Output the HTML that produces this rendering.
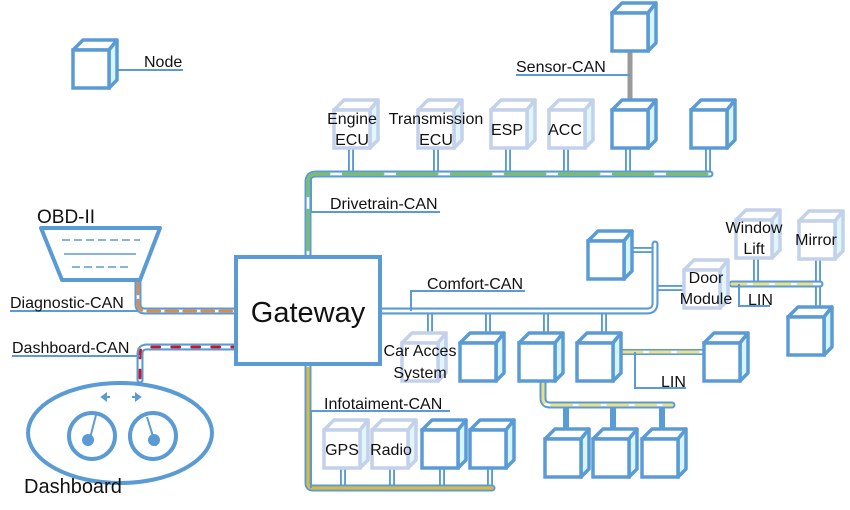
<!DOCTYPE html>
<html><head><meta charset="utf-8"><style>
html,body{margin:0;padding:0;background:#fff;}
svg{display:block;font-family:"Liberation Sans","DejaVu Sans",sans-serif;}
text{fill:#111;}
</style></head><body>
<svg width="850" height="510" viewBox="0 0 850 510" xmlns="http://www.w3.org/2000/svg">
<defs>
<g id="cb">
<polygon points="2,12 12,2 46,2 38,12" fill="#fff" stroke="#5b9bd5" stroke-width="3.5" stroke-linejoin="round"/>
<polygon points="38,12 46,2 46,42 38,50" fill="#d6f6fc" stroke="#5b9bd5" stroke-width="3.5" stroke-linejoin="round"/>
<rect x="2" y="12" width="36" height="38" fill="#fff" stroke="#5b9bd5" stroke-width="3.5"/>
</g>
<g id="cl">
<polygon points="2,12 12,2 46,2 38,12" fill="#fff" stroke="#c3d1ea" stroke-width="3.5" stroke-linejoin="round"/>
<polygon points="38,12 46,2 46,42 38,50" fill="#dff6fb" stroke="#c3d1ea" stroke-width="3.5" stroke-linejoin="round"/>
<rect x="2" y="12" width="36" height="38" fill="#fff" stroke="#c3d1ea" stroke-width="3.5"/>
</g>
</defs>
<g fill="none" stroke-linecap="round">
<g stroke="#5b9bd5" stroke-width="6">
<path d="M351 150V174M436 150V174M508 150V174M566 150V174M628 150V174M708 150V174"/>
<path d="M430 311V333M488 311V333M546 311V333M604 311V333"/>
<path d="M632 250H655M655 288H682"/>
<path d="M756 260V284M818 260V305"/>
<path d="M622 352H702"/>
<path d="M566 405V428M613 405V428M662 405V428"/>
<path d="M343 470V488M392 470V488M442 470V488M490 470V488"/>
</g>
<g stroke="#fff" stroke-width="2.2">
<path d="M351 150V174M436 150V174M508 150V174M566 150V174M628 150V174M708 150V174"/>
<path d="M430 311V333M488 311V333M546 311V333M604 311V333"/>
<path d="M632 250H655M655 288H682"/>
<path d="M756 260V284M818 260V305"/>
<path d="M343 470V488M392 470V488M442 470V488M490 470V488"/>
</g>
<path d="M630 52V98" stroke="#9a9a9a" stroke-width="5"/>
<g stroke="#5b9bd5" stroke-width="7" stroke-linejoin="round">
<path d="M308 256V182Q308 174 316 174H710"/>
<path d="M380 311H647Q655 311 655 303V244"/>
<path d="M138 280V304Q138 311 145 311H236"/>
<path d="M140 380V354Q140 347 147 347H236"/>
<path d="M308 366V483Q308 488 313 488H492"/>
<path d="M732 284H820"/>
<path d="M543 383V398Q543 405 550 405H672"/>
</g>
<g stroke="#fff" stroke-width="2.8" stroke-linejoin="round">
<path d="M308 256V182Q308 174 316 174H710"/>
<path d="M380 311H647Q655 311 655 303V244"/>
<path d="M138 280V304Q138 311 145 311H236"/>
<path d="M140 380V354Q140 347 147 347H236"/>
<path d="M308 366V483Q308 488 313 488H492"/>
<path d="M732 284H820"/>
<path d="M543 383V398Q543 405 550 405H672"/>
<path d="M622 352H702"/>
</g>
<g stroke-width="2.8">
<path d="M308 250V182Q308 174 316 174H710" stroke="#7cc05a" stroke-dasharray="40 14"/>
<path d="M138 282V304Q138 311 145 311H236" stroke="#e08a45" stroke-dasharray="12 6"/>
<path d="M140 378V354Q140 347 147 347H236" stroke="#d0141f" stroke-dasharray="8 12"/>
<path d="M308 368V483Q308 488 313 488H492" stroke="#e5b82b"/>
<path d="M732 284H820" stroke="#eee07a" stroke-dasharray="14 8"/>
<path d="M543 383V398Q543 405 550 405H672" stroke="#eee07a" stroke-dasharray="20 8"/>
<path d="M622 352H702" stroke="#eee07a" stroke-dasharray="20 8"/>
</g>
<g stroke="#5b9bd5" stroke-width="2" stroke-linecap="butt">
<path d="M118 70H183"/>
<path d="M516 75H630"/>
<path d="M311 178V212H440"/>
<path d="M411 311V291H525"/>
<path d="M10 311H138"/>
<path d="M12 356H140"/>
<path d="M311 488V411H450"/>
<path d="M635 352V388H686"/>
<path d="M739 284V306H770"/>
</g>
</g>
<use href="#cb" x="71" y="38"/>
<use href="#cb" x="610" y="1"/>
<use href="#cl" x="332" y="98"/>
<use href="#cl" x="416" y="98"/>
<use href="#cl" x="489" y="98"/>
<use href="#cl" x="547" y="98"/>
<use href="#cb" x="610" y="98"/>
<use href="#cb" x="689" y="98"/>
<use href="#cb" x="586" y="229"/>
<use href="#cl" x="682" y="258"/>
<use href="#cl" x="734" y="208"/>
<use href="#cl" x="797" y="209"/>
<use href="#cb" x="786" y="305"/>
<use href="#cl" x="400" y="331"/>
<use href="#cb" x="458" y="331"/>
<use href="#cb" x="517" y="331"/>
<use href="#cb" x="575" y="331"/>
<use href="#cb" x="702" y="331"/>
<use href="#cb" x="543" y="427"/>
<use href="#cb" x="591" y="427"/>
<use href="#cb" x="640" y="427"/>
<use href="#cl" x="322" y="418"/>
<use href="#cl" x="370" y="418"/>
<use href="#cb" x="420" y="418"/>
<use href="#cb" x="468" y="418"/>
<rect x="236" y="257" width="144" height="107" fill="#fff" stroke="#5b9bd5" stroke-width="4"/>
<text x="308" y="322" font-size="29" text-anchor="middle">Gateway</text>
<polygon points="41,228 160,228 140,280 62,280" fill="#fff" stroke="#5b9bd5" stroke-width="4" stroke-linejoin="round"/>
<path d="M62 240H140M72 267H130" stroke="#5b9bd5" stroke-width="1.6" stroke-dasharray="8 4"/>
<path d="M64 254H136" stroke="#5b9bd5" stroke-width="1.6"/>
<ellipse cx="120" cy="433" rx="92" ry="50" fill="#fff" stroke="#5b9bd5" stroke-width="4"/>
<circle cx="92" cy="436" r="23" fill="none" stroke="#5b9bd5" stroke-width="4"/>
<circle cx="153" cy="436" r="23" fill="none" stroke="#5b9bd5" stroke-width="4"/>
<path d="M88 446L96 415M156 446L147 417" stroke="#5b9bd5" stroke-width="2"/>
<circle cx="88" cy="440" r="6" fill="#5b9bd5"/>
<circle cx="154" cy="440" r="6" fill="#5b9bd5"/>
<path d="M104 397h6M102 397l4-3v6zM132 397h6M140 397l-4-3v6z" stroke="#5b9bd5" stroke-width="2" fill="#5b9bd5"/>
<g font-size="16">
<text x="144" y="67">Node</text>
<text x="516" y="72">Sensor-CAN</text>
<text x="352" y="124" text-anchor="middle">Engine</text>
<text x="352" y="145" text-anchor="middle">ECU</text>
<text x="436" y="124" text-anchor="middle">Transmission</text>
<text x="436" y="145" text-anchor="middle">ECU</text>
<text x="507" y="135" text-anchor="middle">ESP</text>
<text x="565" y="135" text-anchor="middle">ACC</text>
<text x="330" y="209">Drivetrain-CAN</text>
<text x="427" y="289">Comfort-CAN</text>
<text x="10" y="308">Diagnostic-CAN</text>
<text x="12" y="353">Dashboard-CAN</text>
<text x="420" y="356" text-anchor="middle">Car Acces</text>
<text x="420" y="378" text-anchor="middle">System</text>
<text x="706" y="283" text-anchor="middle">Door</text>
<text x="706" y="304" text-anchor="middle">Module</text>
<text x="754" y="233" text-anchor="middle">Window</text>
<text x="754" y="254" text-anchor="middle">Lift</text>
<text x="816" y="245" text-anchor="middle">Mirror</text>
<text x="748" y="305">LIN</text>
<text x="661" y="387">LIN</text>
<text x="324" y="409">Infotaiment-CAN</text>
<text x="342" y="455" text-anchor="middle">GPS</text>
<text x="391" y="455" text-anchor="middle">Radio</text>
</g>
<text x="37" y="223" font-size="19">OBD-II</text>
<text x="24" y="493" font-size="20">Dashboard</text>
</svg>
</body></html>
